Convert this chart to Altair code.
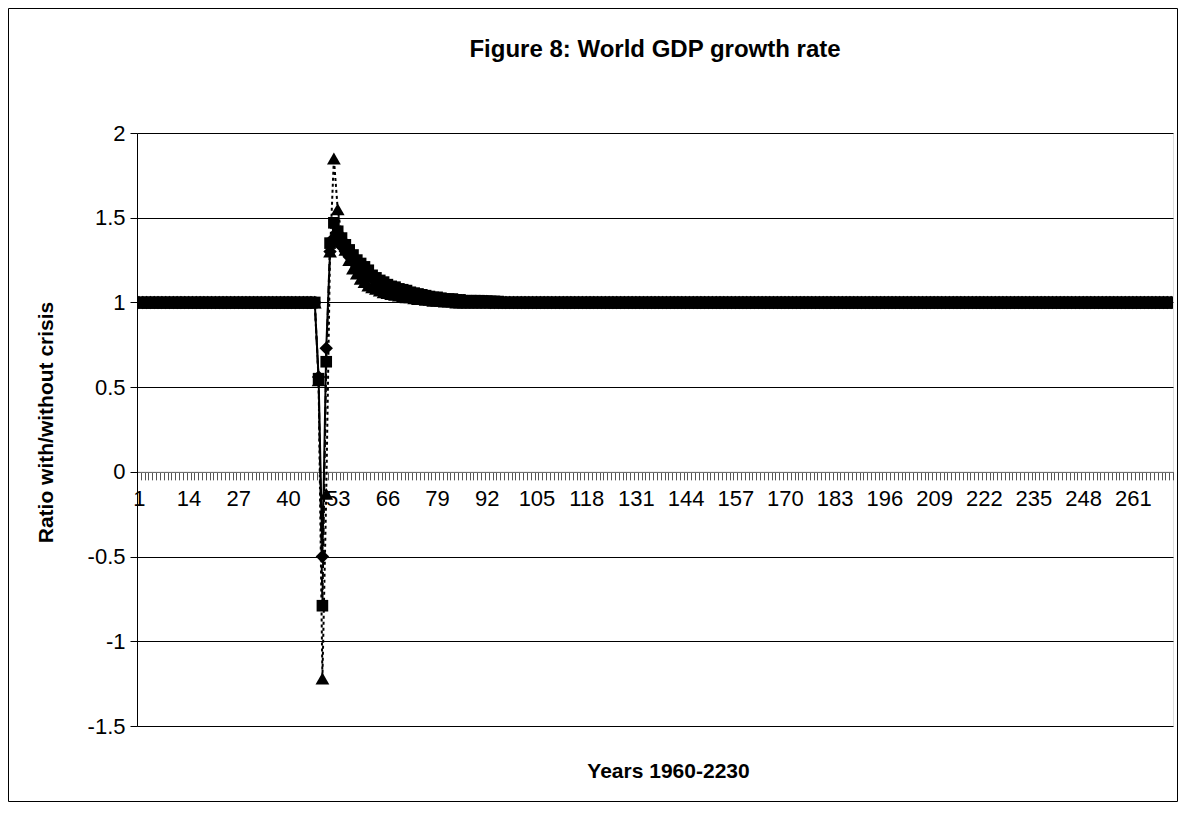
import altair as alt
import pandas as pd

# ---------------- data ----------------
years = list(range(1, 272))                       # categories 1 .. 271 (1960-2230)
flat_before = [1.0] * 47                          # cats 1..47 all series at 1.0

# cats 48.. onward (explicit readings), then back to 1.0
diamond_mid = [0.56, -0.50, 0.73, 1.30, 1.38, 1.36, 1.33, 1.30, 1.27, 1.24,
               1.21, 1.19, 1.17, 1.155, 1.14, 1.125, 1.11, 1.10, 1.09, 1.08,
               1.07, 1.065, 1.06, 1.05, 1.045, 1.04, 1.04, 1.035, 1.03, 1.025,
               1.025, 1.02, 1.02, 1.015, 1.015, 1.01, 1.01, 1.01, 1.01, 1.005,
               1.005, 1.005, 1.005, 1.005, 1.005]
square_mid = [0.55, -0.79, 0.65, 1.35, 1.47, 1.42, 1.38, 1.34, 1.31, 1.28,
              1.25, 1.23, 1.21, 1.19, 1.16, 1.145, 1.13, 1.12, 1.105, 1.095,
              1.09, 1.08, 1.075, 1.07, 1.06, 1.055, 1.05, 1.045, 1.04, 1.035,
              1.03, 1.03, 1.025, 1.02, 1.02, 1.02, 1.015, 1.015, 1.01, 1.01,
              1.01, 1.01, 1.01, 1.008, 1.008, 1.006, 1.006, 1.005]
triangle_mid = [0.54, -1.22, -0.13, 1.30, 1.85, 1.55, 1.40, 1.31, 1.25, 1.20,
                1.17, 1.14, 1.12, 1.10, 1.09, 1.08, 1.07, 1.06, 1.055, 1.05,
                1.045, 1.04, 1.035, 1.03, 1.03, 1.025, 1.02, 1.02, 1.015, 1.015,
                1.01, 1.01, 1.01, 1.005, 1.005, 1.005]

diamond = flat_before + diamond_mid + [1.0] * (271 - 47 - len(diamond_mid))
square = flat_before + square_mid + [1.0] * (271 - 47 - len(square_mid))
triangle = flat_before + triangle_mid + [1.0] * (271 - 47 - len(triangle_mid))

y_ticks = [-1.5, -1.0, -0.5, 0.0, 0.5, 1.0, 1.5, 2.0]
label_step = 13

# ---------------- layout ----------------
W, H = 1036, 593
PAD = {"left": 129, "top": 125, "right": 5, "bottom": 76}
Y_MIN, Y_MAX = -1.5, 2.0
zero_y = H * (Y_MAX - 0) / (Y_MAX - Y_MIN)       # pixel of y=0 inside plot
FONT = "Liberation Sans"

x_axis = alt.Axis(
    title="Years 1960-2230",
    titleFont=FONT, titleFontSize=21, titleFontWeight="bold", titleColor="black",
    titleX=531, titleY=306, titleBaseline="alphabetic", titleAlign="center", titleAnchor="middle",
    offset=-(H - zero_y),
    labelExpr=f"(datum.value - 1) % {label_step} == 0 ? datum.label : ''",
    labelOverlap=False, labelAngle=0, labelFont=FONT, labelFontSize=22,
    labelColor="black", labelPadding=9, labelFlush=False,
    tickBand="extent", tickSize=8, tickColor="#555555", tickWidth=1,
    domainColor="#808080", domainWidth=1, grid=False,
)
y_axis = alt.Axis(
    title="Ratio with/without crisis",
    titleFont=FONT, titleFontSize=21, titleFontWeight="bold", titleColor="black",
    titleAngle=270, titleX=-84.5, titleY=289, titleAlign="center",
    titleBaseline="alphabetic",
    values=y_ticks, labelExpr="'' + datum.value",
    labelFont=FONT, labelFontSize=22, labelColor="black", labelPadding=5,
    tickSize=7, tickColor="black", domainColor="black", domainWidth=1,
    grid=True, gridColor="#000000", gridWidth=1,
)

x_enc = alt.X("year:O", bandPosition=0.5,
              scale=alt.Scale(type="band", paddingInner=0, paddingOuter=0),
              axis=x_axis)
y_enc = alt.Y("value:Q", scale=alt.Scale(domain=[Y_MIN, Y_MAX], nice=False, zero=False),
              axis=y_axis)

series = [
    ("diamond", diamond, "diamond", 180, [1, 0]),
    ("square", square, "square", 135, [7, 4]),
    ("triangle", triangle, "triangle-up", 190, [3, 3]),
]

frame = alt.Chart(pd.DataFrame({"k": [0]})).mark_rect(
    fill="transparent", stroke="black", strokeWidth=1, clip=False
).encode(
    x=alt.value(-PAD["left"] + 0.5), x2=alt.value(W + PAD["right"] - 0.5),
    y=alt.value(-PAD["top"] + 0.5), y2=alt.value(H + PAD["bottom"] - 0.5),
)

layers = [frame]
for name, vals, shape, size, dash in series:
    df = pd.DataFrame({"year": years, "value": vals})
    base = alt.Chart(df)
    line_kwargs = dict(color="black", strokeWidth=2, clip=True)
    if dash != [1, 0]:
        line_kwargs["strokeDash"] = dash
    layers.append(base.mark_line(**line_kwargs).encode(x=x_enc, y=y_enc))
    layers.append(base.mark_point(filled=True, shape=shape, size=size, color="black",
                                  opacity=1, clip=True).encode(x=x_enc, y=y_enc))

chart = alt.layer(*layers).properties(
    width=W, height=H,
    padding=PAD,
    autosize=alt.AutoSizeParams(type="none"),
    title=alt.TitleParams("Figure 8: World GDP growth rate", font=FONT, fontSize=24,
                          fontWeight="bold", color="black", anchor="middle",
                          frame="group", baseline="alphabetic", offset=-73),
).configure_view(stroke="#808080", strokeWidth=1.5).configure(background="white")

chart.save("out.html", embed_options={"renderer": "svg", "actions": False})
